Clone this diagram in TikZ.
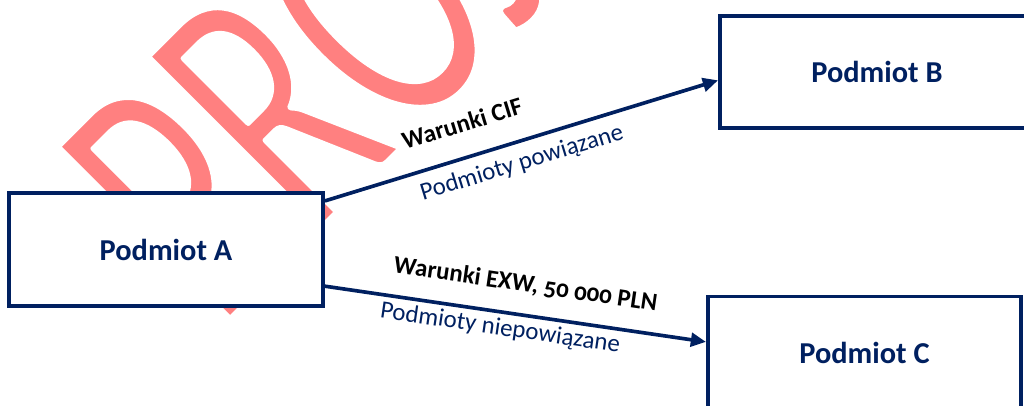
\documentclass[tikz,border=0pt]{standalone}
\usepackage{fontspec}
\setmainfont{Carlito}[Numbers=OldStyle]
\usepackage{graphicx}
\usepackage{tikz}
\usetikzlibrary{arrows.meta}
\definecolor{navy}{HTML}{002060}
\definecolor{stamp}{HTML}{FF8080}
\tikzstyle{box}=[fill=white, draw=navy, line width=2.8pt, shape=rectangle, minimum width=7.85cm, minimum height=2.825cm, inner sep=0pt, text=navy, font=\fontsize{21.6}{26}\selectfont\bfseries]
\tikzstyle{arrow}=[-{Triangle[length=0.38cm, width=0.34cm]}, draw=navy, line width=2.6pt]
\tikzstyle{deal}=[font=\fontsize{17.7}{21}\selectfont\bfseries, text=black, inner sep=0pt, sloped]
\tikzstyle{relation}=[font=\fontsize{17.7}{21}\selectfont, text=navy, inner sep=0pt, sloped]
\pgfdeclarelayer{stamplayer}
\pgfdeclarelayer{edgelayer}
\pgfdeclarelayer{nodelayer}
\pgfsetlayers{stamplayer,edgelayer,nodelayer,main}
% thinner watermark letters: fill, then a white outline
\newcommand{\thinstamp}[1]{\special{pdf:literal 1 1 1 RG 4 w 1 j 2 Tr}#1\special{pdf:literal 0 Tr}}

\begin{document}
\begin{tikzpicture}
	\useasboundingbox (0, 0) rectangle (25.6, 10.125);
	\clip (0, 0) rectangle (25.6, 10.125);
	\begin{pgfonlayer}{stamplayer}
		\node [anchor=base west, inner sep=0pt, rotate=45, text=stamp, font=\fontsize{270}{270}\selectfont] (stamp) at (5.45, 1.85) {\scalebox{0.65}[1]{\thinstamp{PROJEKT}}};
	\end{pgfonlayer}
	\begin{pgfonlayer}{nodelayer}
		\node [style=box] (A) at (4.15, 3.8875) {Podmiot A};
		\node [style=box, minimum height=2.8cm] (B) at (21.925, 8.325) {Podmiot B};
		\node [style=box, minimum width=7.825cm] (C) at (21.6125, 1.3) {Podmiot C};
	\end{pgfonlayer}
	\begin{pgfonlayer}{edgelayer}
		\draw [style=arrow] (A.17) to node [style=deal, pos=0.374, above=0.58cm] {Warunki CIF} node [style=relation, pos=0.485, below=0.23cm] {Podmioty powiązane} (B.183);
		\draw [style=arrow] (A.-13) to node [style=deal, pos=0.515, above=0.45cm] {Warunki EXW, 50 000 PLN} node [style=relation, pos=0.466, below=0.1cm] {Podmioty niepowiązane} (C.176);
	\end{pgfonlayer}
\end{tikzpicture}
\end{document}
